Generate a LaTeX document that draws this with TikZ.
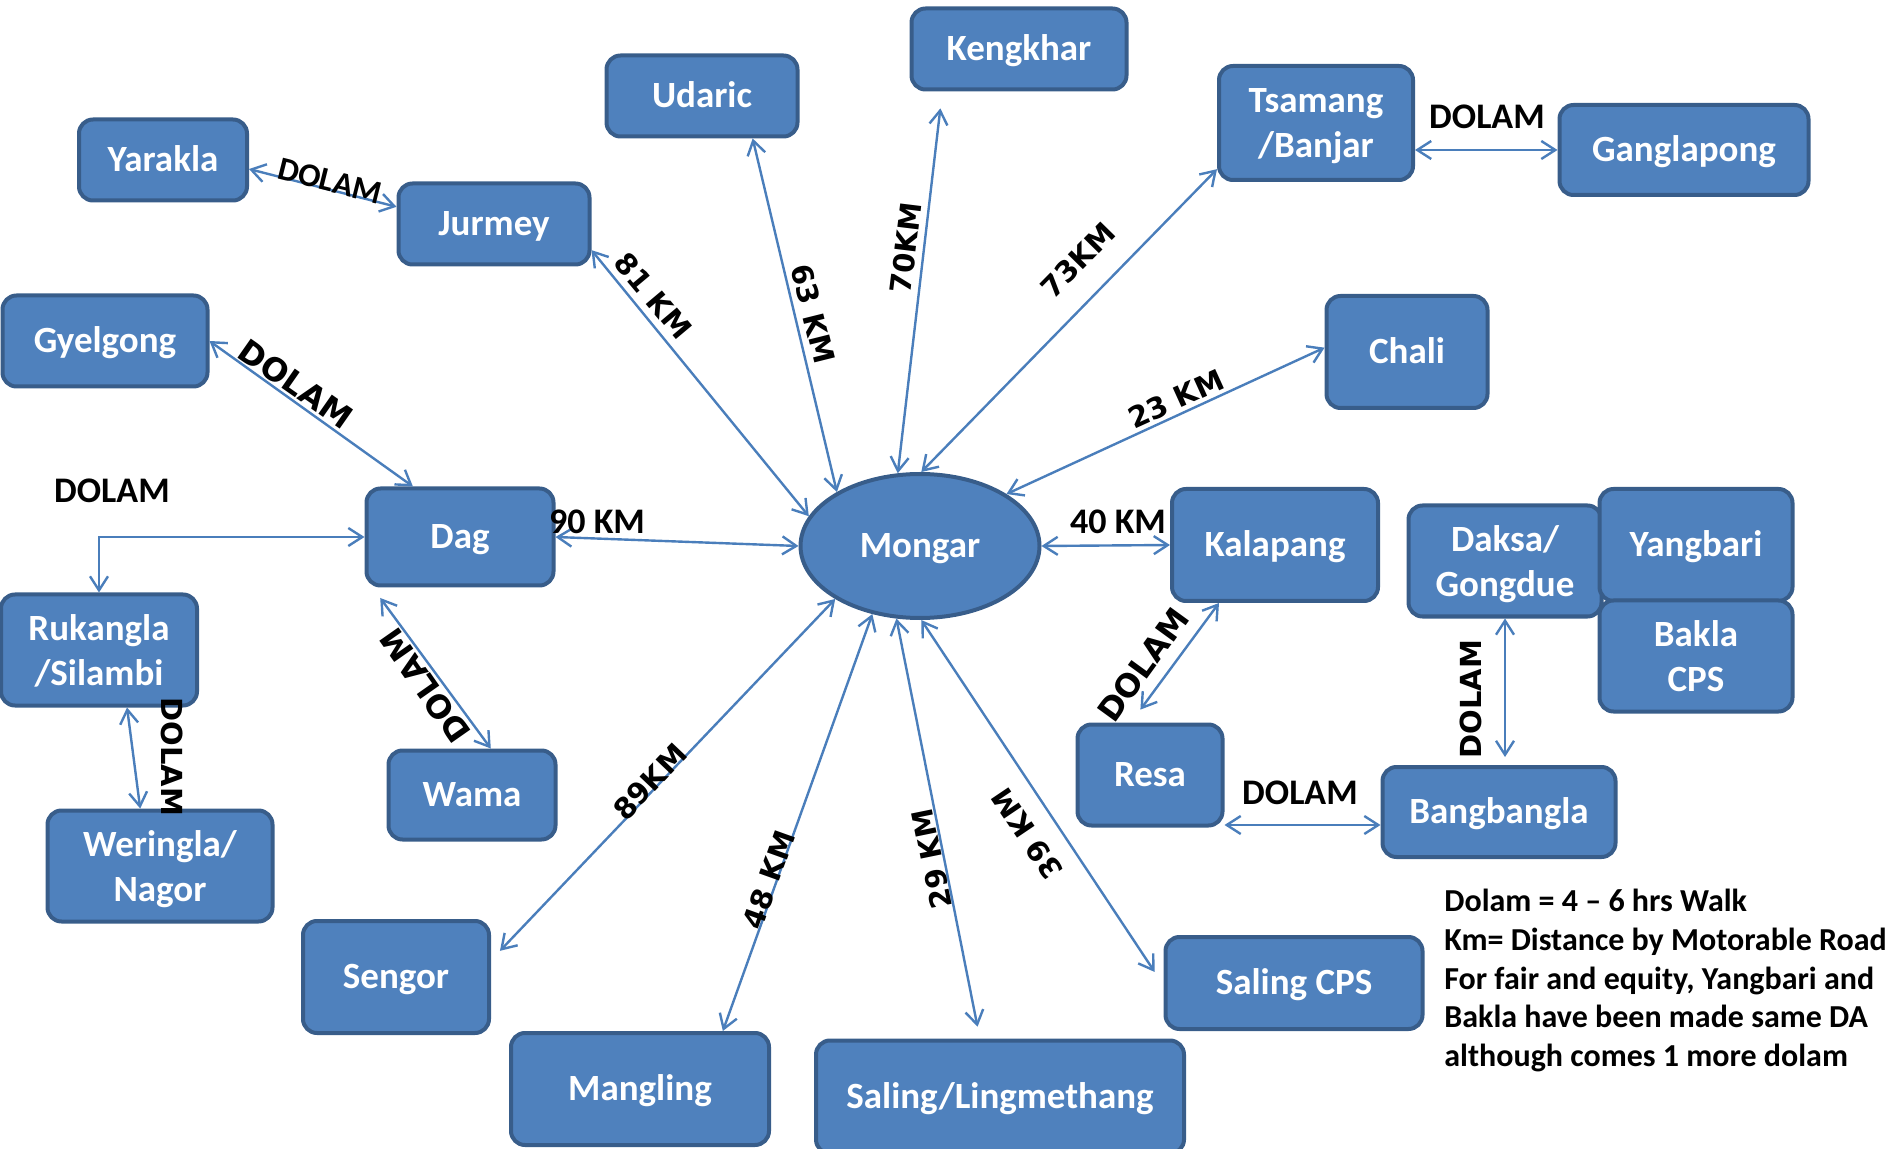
\documentclass[tikz,border=0pt]{standalone}
\usepackage{fontspec}
\setmainfont{Carlito}
\newfontfamily\labelfont{DejaVu Sans}
\usepackage{tikz}
\usetikzlibrary{
  arrows.meta,
  shapes.geometric
}
\definecolor{boxfill}{HTML}{4F81BD}
\definecolor{boxline}{HTML}{385D8A}
\definecolor{linkcol}{HTML}{4A7EBB}

\begin{document}
\begin{tikzpicture}[
      x=0.5pt,y=-0.5pt,
      place/.style={
         rectangle,
         rounded corners=7pt,
         line width=2pt,
         draw=boxline,
         fill=boxfill,
         text=white,
         align=center,
         inner sep=0pt,
         text height=16.6pt,
         text depth=4.8pt,
         font=\bfseries\fontsize{18.5}{22.5}\selectfont
      },
      twoline/.style={
         place,
         text height=,
         text depth=0pt
      },
      hub/.style={
         place,
         ellipse,
         sharp corners
      },
      tip/.style={
         {Straight Barb[length=7pt,width=9pt]}-{Straight Barb[length=7pt,width=9pt]},
         line width=1.2pt,
         draw=linkcol
      },
      dist/.style={font=\labelfont\bfseries\fontsize{14.5}{17}\selectfont,inner sep=0pt},
      walk/.style={font=\bfseries\fontsize{18}{21}\selectfont,inner sep=0pt}
    ]
    \useasboundingbox (0,0) rectangle (1895,1149);

    \node (mongar) [hub, minimum width=119.5pt, minimum height=72pt] at (920,546) {Mongar};

    \node (yarakla) [place, minimum width=84pt, minimum height=40.5pt] at (163,160) {Yarakla};
    \node (jurmey) [place, minimum width=95.5pt, minimum height=40.5pt] at (494,224) {Jurmey};
    \node (udaric) [place, minimum width=95.5pt, minimum height=40.5pt] at (702,96) {Udaric};
    \node (kengkhar) [place, minimum width=107.5pt, minimum height=40.5pt] at (1019,49) {Kengkhar};
    \node (tsamang) [twoline, minimum width=97pt, minimum height=57pt] at (1316,123) {Tsamang\\/Banjar};
    \node (ganglapong) [place, minimum width=124.5pt, minimum height=45pt] at (1684,150) {Ganglapong};
    \node (chali) [place, minimum width=80.5pt, minimum height=56pt] at (1407,352) {Chali};
    \node (gyelgong) [place, minimum width=102.5pt, minimum height=45.5pt] at (105,341) {Gyelgong};
    \node (dag) [place, minimum width=93.5pt, minimum height=48.5pt] at (460,537) {Dag};
    \node (kalapang) [place, minimum width=103pt, minimum height=56pt] at (1275,545) {Kalapang};
    \node (daksa) [twoline, minimum width=96.5pt, minimum height=55.5pt] at (1505,561) {Daksa/\\Gongdue};
    \node (yangbari) [place, minimum width=96.5pt, minimum height=56pt] at (1696,545) {Yangbari};
    \node (bakla) [twoline, minimum width=96.5pt, minimum height=55.5pt] at (1696,656) {Bakla\\CPS};
    \node (rukangla) [twoline, minimum width=98pt, minimum height=55.5pt] at (99,650) {Rukangla\\/Silambi};
    \node (weringla) [twoline, minimum width=112.5pt, minimum height=55.5pt] at (160,866) {Weringla/\\Nagor};
    \node (wama) [place, minimum width=83.5pt, minimum height=44.5pt] at (472,795) {Wama};
    \node (resa) [place, minimum width=72.5pt, minimum height=50.5pt] at (1150,775) {Resa};
    \node (bangbangla) [place, minimum width=116.5pt, minimum height=45pt] at (1499,812) {Bangbangla};
    \node (sengor) [place, minimum width=93pt, minimum height=56pt] at (396,977) {Sengor};
    \node (mangling) [place, minimum width=129pt, minimum height=56pt] at (640,1089) {Mangling};
    \node (saling) [place, minimum width=184pt, minimum height=56.5pt] at (1000,1097) {Saling/Lingmethang};
    \node (salingcps) [place, minimum width=128.5pt, minimum height=46pt] at (1294,983) {Saling CPS};

    % roads and walks
    \draw [tip] (yarakla.-6) -- (jurmey.170);
    \draw [tip] (jurmey.-15) -- (mongar.165);
    \draw [tip] (udaric.-40) -- (mongar.147);
    \draw [tip, shorten <=8.5pt] (kengkhar.209) -- (mongar.107);
    \draw [tip] (tsamang.205) -- (mongar.89);
    \draw [tip] (chali.177) -- (mongar.31);
    \draw [tip] (tsamang.east |- ganglapong.west) -- (ganglapong.west);
    \draw [tip] (gyelgong.east) -- (dag.133);
    \draw [tip] (dag.east) -- (mongar.west);
    \draw [tip] (mongar.east) -- (kalapang.west);
    \draw [tip] (dag.west) -| (rukangla.north);
    \draw [tip] (rukangla.-64) -- (weringla.109);
    \draw [tip, shorten <=6.5pt] (dag.-150) -- (wama.68);
    \draw [tip, shorten >=8pt] (kalapang.-134) -- (resa.110);
    \coordinate (bbin) at ([yshift=-6.5pt]bangbangla.west);
    \draw [tip] (bbin -| resa.east) -- (bbin);
    \draw [tip, shorten >=4pt] (daksa.south) -- (daksa.south |- bangbangla.north);
    \draw [tip, shorten >=6.5pt] (mongar.212) -- (sengor.10);
    \draw [tip] (mongar.235) -- (mangling.35);
    \draw [tip, shorten >=6pt] (mongar.252) -- (saling.109);
    \draw [tip, shorten >=8pt] (mongar.271) -- (salingcps.181);

    \node (w1) [walk, rotate=-14, font=\bfseries\fontsize{16.5}{19}\selectfont] at (330,181) {DOLAM};
    \node (k81) [dist, rotate=-50] at (653,296) {81 KM};
    \node (k63) [dist, rotate=-76] at (813,314) {63 KM};
    \node (k70) [dist, rotate=83] at (906,248) {70KM};
    \node (k73) [dist, rotate=45.5] at (1078,260) {73KM};
    \node (k23) [dist, rotate=24.4] at (1176,399) {23 KM};
    \node (w2) [walk] at (1487,117) {DOLAM};
    \node (w3) [dist, rotate=-35, font=\labelfont\bfseries\fontsize{16}{19}\selectfont] at (296,384) {DOLAM};
    \node (w4) [walk] at (112,491) {DOLAM};
    \node (k90) [walk] at (597,522) {90 KM};
    \node (k40) [walk] at (1118,522) {40 KM};
    \node (w5) [dist, rotate=-90] at (172,757) {DOLAM};
    \node (w6) [dist, rotate=125, font=\labelfont\bfseries\fontsize{16}{19}\selectfont] at (425,686) {DOLAM};
    \node (w7) [dist, rotate=54, font=\labelfont\bfseries\fontsize{16}{19}\selectfont] at (1143,665) {DOLAM};
    \node (w8) [walk] at (1300,793) {DOLAM};
    \node (w9) [dist, rotate=90] at (1471,699) {DOLAM};
    \node (k89) [dist, rotate=46.4] at (650,782) {89KM};
    \node (k48) [dist, rotate=70.3] at (769,880) {48 KM};
    \node (k29) [dist, rotate=101.5] at (932,859) {29 KM};
    \node (k39) [dist, rotate=124] at (1027,834) {39 KM};

    \node (legend) [anchor=north west, align=left, inner sep=0pt,
       font=\bfseries\fontsize{16}{19.3}\selectfont] at (1444,889)
       {Dolam = 4 -- 6 hrs Walk\\Km= Distance by Motorable Road\\For fair and equity, Yangbari and\\Bakla have been made same DA\\although comes 1 more dolam};
\end{tikzpicture}
\end{document}
